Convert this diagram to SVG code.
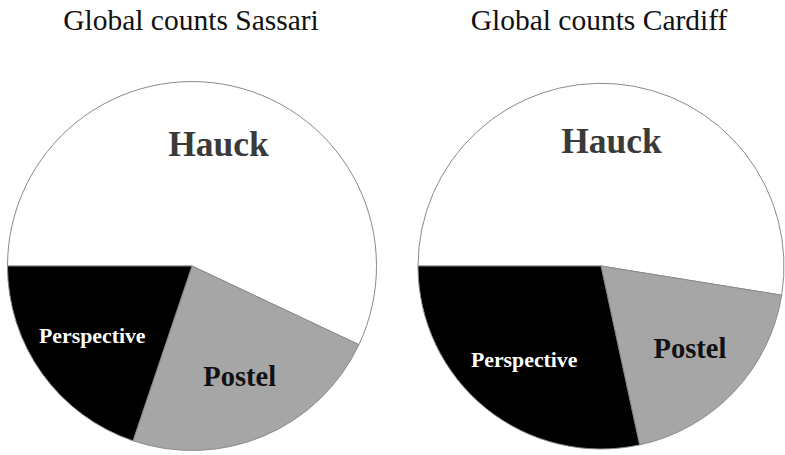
<svg xmlns="http://www.w3.org/2000/svg" width="785" height="455" viewBox="0 0 785 455">
<style>
.title{font-size:29.5px;fill:#111;text-anchor:middle}
.lbl{font-weight:bold;text-anchor:middle}
.sl{stroke:#8a8a8a;stroke-width:1;stroke-linejoin:round}
.w{fill:#ffffff}.g{fill:#a6a6a6}.k{fill:#000000}
</style>
<rect width="785" height="455" fill="#ffffff"/>
<g font-family="'Liberation Serif', 'Times New Roman', serif">
<text class="title" x="191" y="30" font-family="'Liberation Serif', serif">Global counts Sassari</text>
<text class="title" x="599" y="30" font-family="'Liberation Serif', serif">Global counts Cardiff</text>
<g id="pie-sassari">
<path class="sl w" d="M192,266 L7.5,266 A184.5,184.5 0 1 1 358.9,344.7 Z"/>
<path class="sl g" d="M192,266 L358.9,344.7 A184.5,184.5 0 0 1 133,440.8 Z"/>
<path class="sl k" d="M192,266 L133,440.8 A184.5,184.5 0 0 1 7.5,266 Z"/>
<text class="lbl" x="218.5" y="155.5" font-size="35.5" fill="#3a3a3a">Hauck</text>
<text class="lbl" x="239.7" y="386" font-size="28.5" fill="#111">Postel</text>
<text class="lbl" x="92.3" y="343.3" font-size="21.8" fill="#ffffff">Perspective</text>
</g>
<g id="pie-cardiff">
<path class="sl w" d="M601,266 L418,266 A183,183 0 1 1 781.7,295.2 Z"/>
<path class="sl g" d="M601,266 L781.7,295.2 A183,183 0 0 1 639.6,444.9 Z"/>
<path class="sl k" d="M601,266 L639.6,444.9 A183,183 0 0 1 418,266 Z"/>
<text class="lbl" x="611.5" y="153.3" font-size="35.5" fill="#3a3a3a">Hauck</text>
<text class="lbl" x="690" y="357.7" font-size="28.5" fill="#111">Postel</text>
<text class="lbl" x="524.2" y="366.7" font-size="21.8" fill="#ffffff">Perspective</text>
</g>
</g>
</svg>
